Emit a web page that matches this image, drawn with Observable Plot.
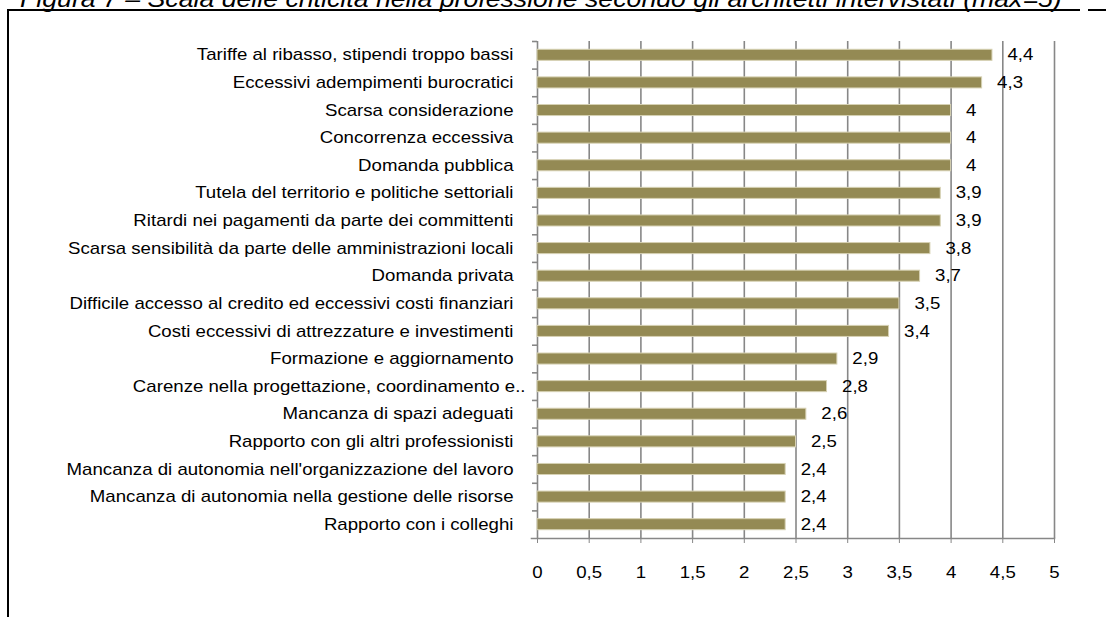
<!DOCTYPE html>
<html>
<head>
<meta charset="utf-8">
<script src="https://cdn.jsdelivr.net/npm/d3@7"></script>
<script src="https://cdn.jsdelivr.net/npm/@observablehq/plot@0.6"></script>
<style>
  html, body { margin: 0; padding: 0; background: #fff; overflow: hidden; }
  #page { position: relative; width: 1106px; height: 617px; overflow: hidden; }
  #title { position: absolute; left: 20px; top: -12px; white-space: nowrap;
    font: italic 23px/22px "Liberation Sans", Arial, sans-serif; color: #000;
    transform: scaleX(1.16); transform-origin: left center; }
  .line { position: absolute; background: #000; }
  #chart { position: absolute; left: 0; top: 0; }
</style>
</head>
<body>
<div id="page">
  <div id="chart"></div>
  <div id="title">Figura 7 – Scala delle criticità nella professione secondo gli architetti intervistati (max=5)</div>
  <div class="line" style="left:7px; top:9px; width:1073px; height:2px;"></div>
  <div class="line" style="left:1088px; top:9px; width:18px; height:2px;"></div>
  <div class="line" style="left:7px; top:9px; width:2px; height:610px;"></div>
</div>
<script>
const categories = [
  "Tariffe al ribasso, stipendi troppo bassi",
  "Eccessivi adempimenti burocratici",
  "Scarsa considerazione",
  "Concorrenza eccessiva",
  "Domanda pubblica",
  "Tutela del territorio e politiche settoriali",
  "Ritardi nei pagamenti da parte dei committenti",
  "Scarsa sensibilità da parte delle amministrazioni locali",
  "Domanda privata",
  "Difficile accesso al credito ed eccessivi costi finanziari",
  "Costi eccessivi di attrezzature e investimenti",
  "Formazione e aggiornamento",
  "Carenze nella progettazione, coordinamento e..",
  "Mancanza di spazi adeguati",
  "Rapporto con gli altri professionisti",
  "Mancanza di autonomia nell'organizzazione del lavoro",
  "Mancanza di autonomia nella gestione delle risorse",
  "Rapporto con i colleghi"
];
const values = [4.4, 4.3, 4, 4, 4, 3.9, 3.9, 3.8, 3.7, 3.5, 3.4, 2.9, 2.8, 2.6, 2.5, 2.4, 2.4, 2.4];
const xTicks = [0, 0.5, 1, 1.5, 2, 2.5, 3, 3.5, 4, 4.5, 5];
const truncatedLabel = "Carenze nella progettazione, coordinamento e..";

const data = categories.map((c, i) => ({category: c, value: values[i]}));
const fmt = v => String(v).replace(".", ",");

const W = 1106, H = 617;
const mTop = 41, mBottom = 79, mLeft = 537, mRight = 52;
const step = (H - mTop - mBottom) / categories.length;
const grid = "#878787";
const textStretch = 1.166;

const chart = Plot.plot({
  width: W,
  height: H,
  marginTop: mTop,
  marginBottom: mBottom,
  marginLeft: mLeft,
  marginRight: mRight,
  style: {background: "transparent", fontFamily: "'Liberation Sans', Arial, sans-serif", fontSize: "16px", color: "#000"},
  x: {domain: [0, 5], axis: null},
  y: {domain: categories, paddingInner: 0.6, paddingOuter: 0.3, round: false, axis: null},
  marks: [
    Plot.ruleX(xTicks, {stroke: grid, strokeWidth: 1.6}),
    Plot.axisX({ticks: xTicks, tickSize: 5, tickPadding: 23, tickFormat: fmt, stroke: grid, fill: "#000", fontSize: 16, label: null}),
    Plot.frame({anchor: "bottom", stroke: grid, strokeWidth: 1.6, insetLeft: -6}),
    Plot.axisY({tickSize: 5, tickFormat: () => "", stroke: grid, dy: -step / 2, strokeWidth: 1.6, label: null}),
    Plot.barX(data, {x: "value", y: "category", fill: "#948A54", stroke: "#D6D1B3", strokeWidth: 1}),
    Plot.text(data, {x: "value", y: "category", text: d => fmt(d.value), dx: 15, textAnchor: "start", fill: "#000", fontSize: 16}),
    Plot.text(categories.filter(c => c !== truncatedLabel), {y: d => d, frameAnchor: "left", dx: -24, textAnchor: "end", fill: "#000", fontSize: 16}),
    Plot.text(categories.filter(c => c === truncatedLabel), {y: d => d, frameAnchor: "left", dx: -12, textAnchor: "end", fill: "#000", fontSize: 16})
  ]
});

// Widen glyphs horizontally about each text's own anchor (the source chart is horizontally stretched)
chart.querySelectorAll("text").forEach(t => {
  const tr = t.getAttribute("transform") || "";
  t.setAttribute("transform", `${tr} scale(${textStretch},1)`);
});
document.getElementById("chart").appendChild(chart);
</script>
</body>
</html>
